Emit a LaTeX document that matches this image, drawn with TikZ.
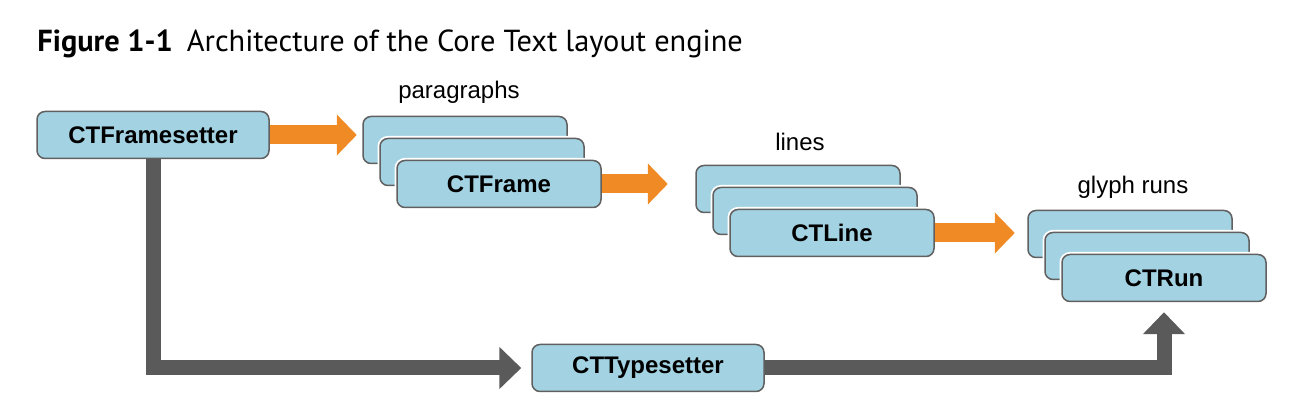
\documentclass[tikz,border=0pt]{standalone}
\usepackage{fontspec}
\setmainfont{Liberation Sans}
\newfontfamily\titlefont{PT Sans}
\usetikzlibrary{arrows.meta}
\definecolor{boxfill}{HTML}{A3D3E3}
\definecolor{boxline}{HTML}{606060}
\definecolor{flow}{HTML}{F08A24}
\definecolor{setter}{HTML}{5A5A5A}
\begin{document}
\begin{tikzpicture}[x=0.5pt,y=-0.5pt,
    ctbox/.style={draw=boxline, fill=boxfill, line width=0.75pt, rounded corners=4pt,
      minimum width=102pt, minimum height=23.5pt, inner sep=0pt,
      font=\fontsize{12}{14}\selectfont\bfseries,
      preaction={draw=white, line width=2.5pt}},
    wide/.style={minimum width=116pt},
    flowarrow/.style={draw=flow, line width=9.5pt, -{Triangle[length=10pt,width=20pt]}},
    setterarrow/.style={draw=setter, line width=7.5pt, line join=miter,
      -{Triangle[length=11pt,width=20.5pt]}},
    stacklabel/.style={font=\fontsize{12}{14}\selectfont}]
    \useasboundingbox (0,0) rectangle (1314,410);
    \node[anchor=base west, inner sep=0pt, font=\titlefont\fontsize{15.2}{17}\selectfont] (title) at (37,52)
        {\textbf{Figure 1-1}\hspace{7pt}Architecture of the Core Text layout engine};
    \node[ctbox,wide] (fs) at (153,135) {CTFramesetter};
    \node[ctbox,wide] (ts) at (648,368) {CTTypesetter};
    \node[ctbox] (para1) at (465,140) {};
    \node[ctbox] (para2) at (482,162) {};
    \node[ctbox] (frame) at (499,184) {CTFrame};
    \node[ctbox] (line1) at (798,189) {};
    \node[ctbox] (line2) at (815,211) {};
    \node[ctbox] (line) at (832,233) {CTLine};
    \node[ctbox] (run1) at (1130,234) {};
    \node[ctbox] (run2) at (1147,256) {};
    \node[ctbox] (run) at (1164,278) {CTRun};
    \node[stacklabel] (paralabel) at (459,92) {paragraphs};
    \node[stacklabel] (linelabel) at (800,142) {lines};
    \node[stacklabel] (runlabel) at (1133,187) {glyph runs};
    \draw[flowarrow] (fs.east) -- ++(87,0);
    \draw[flowarrow] (frame.east) -- ++(66,0);
    \draw[flowarrow] (line.east) -- ++(80,0);
    \draw[setterarrow] (fs.south) |- ([xshift=-5pt]ts.west);
    \draw[setterarrow] (ts.east) -| ([yshift=-5pt]run.south);
\end{tikzpicture}
\end{document}
